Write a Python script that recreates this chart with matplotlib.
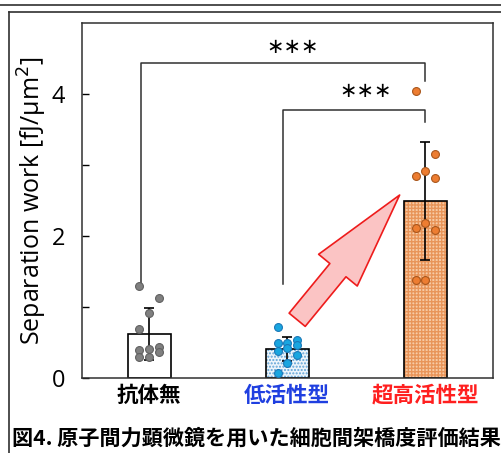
import matplotlib
matplotlib.use("Agg")
import matplotlib.pyplot as plt
from matplotlib.lines import Line2D
from matplotlib.patches import FancyArrowPatch
import numpy as np

groups = ["抗体無", "低活性型", "超高活性型"]
group_colors = ["black", "#1f3fe0", "#ff1f1f"]
means = [0.62, 0.41, 2.49]
sds = [0.36, 0.17, 0.83]

# individual measurements and their horizontal slot (-1, 0, +1)
vals_none = [1.29, 1.12, 0.91, 0.69, 0.40, 0.29, 0.41, 0.30, 0.44, 0.36]
slot_none = [-1, 1, 0, -1, -1, -1, 0, 0, 1, 1]
vals_low = [0.72, 0.49, 0.49, 0.54, 0.38, 0.42, 0.46, 0.33, 0.21, 0.07]
slot_low = [-1, -1, 0, 1, -1, 0, 1, 1, 0, -1]
vals_high = [4.04, 3.16, 2.92, 2.85, 2.81, 2.19, 2.11, 2.08, 1.38, 1.38]
slot_high = [-1, 1, 0, -1, 1, 0, -1, 1, -1, 0]

sig_pairs = [(0, 2), (1, 2)]
sig_text = ["∗∗∗", "∗∗∗"]

caption = "図4. 原子間力顕微鏡を用いた細胞間架橋度評価結果"

cjk = ["Noto Sans CJK JP", "DejaVu Sans"]
latin = ["Open Sans", "DejaVu Sans"]

fig = plt.figure(figsize=(5.01, 4.53), dpi=100)
ax = fig.add_axes([82 / 501, 1 - 378 / 453, 411 / 501, 355 / 453])

x = np.arange(len(groups))
w = 0.31
face = ["white", "#eef5fb", "#f7cba6"]
hatch = [None, ".....", "+++++"]
hcol = ["white", "#5fa3d6", "#e8955a"]
for i in range(3):
    ax.bar(x[i], means[i], w, color=face[i], hatch=hatch[i], edgecolor=hcol[i], lw=0, zorder=1)
    ax.bar(x[i], means[i], w, facecolor="none", edgecolor="black", lw=1.2, zorder=2)
ax.errorbar(x, means, yerr=sds, fmt="none", ecolor="black", elinewidth=1.2,
            capsize=3.5, capthick=1.2, zorder=3)

dot_style = [("#808080", "#606060"), ("#19a6e0", "#1a78b8"), ("#ed7d31", "#a9561c")]
for i, (vals, slots) in enumerate([(vals_none, slot_none), (vals_low, slot_low), (vals_high, slot_high)]):
    px = x[i] + 0.07 * np.array(slots)
    ax.scatter(px, vals, s=32, c=dot_style[i][0], edgecolors=dot_style[i][1],
               linewidths=0.8, zorder=4)

# significance brackets
tops = [4.43, 3.78]
drops = [4.18, 3.60]
lefts = [-0.06, 0.97]
legs = [1.34, 1.33]
star_pos = [(1.04, 4.66), (1.57, 4.04)]
for k, (a, b) in enumerate(sig_pairs):
    ax.plot([lefts[k], lefts[k], x[b], x[b]], [legs[k], tops[k], tops[k], drops[k]],
            color="#303030", lw=1.1, zorder=2)
    ax.text(star_pos[k][0], star_pos[k][1], sig_text[k], ha="center", va="center",
            fontsize=15, color="black")

arrow = FancyArrowPatch((1.072, 0.82), (1.814, 2.577),
                        arrowstyle="simple,head_length=70,head_width=36,tail_width=15",
                        mutation_scale=1, fc="#fbc4c4", ec="#ee1c1c", lw=1.2,
                        shrinkA=0, shrinkB=0, zorder=5)
ax.add_patch(arrow)

ax.set_xlim(-0.486, 2.49)
ax.set_ylim(0, 5.0)
ax.set_yticks([0, 2, 4])
ax.set_yticks([1, 3], minor=True)
ax.tick_params(axis="y", which="both", direction="in", length=5, width=1,
               labelsize=17, pad=12)
for t in ax.get_yticklabels():
    t.set_family(latin)
ax.set_xticks(x)
ax.set_xticklabels(groups)
ax.tick_params(axis="x", length=0, pad=5)
for t, c in zip(ax.get_xticklabels(), group_colors):
    t.set_color(c)
    t.set_family(cjk)
    t.set_fontweight("bold")
    t.set_fontsize(15.5)
for s in ax.spines.values():
    s.set_linewidth(1.1)
    s.set_color("#303030")
ax.set_ylabel("Separation work [fJ/μm$^2$]", fontsize=18, family=latin, labelpad=2)

fig.text(12 / 501, 1 - 438 / 453, caption, family=cjk, fontweight="bold",
         fontsize=15.2, ha="left", va="center")

# page frame lines
fig.add_artist(Line2D([0, 1], [1 - 5 / 453] * 2, color="#303030", lw=1.2))
fig.add_artist(Line2D([9 / 501, 1], [1 - 12 / 453] * 2, color="#303030", lw=1.2))
fig.add_artist(Line2D([9 / 501, 9 / 501], [0, 1 - 12 / 453], color="#303030", lw=1.2))

fig.savefig("out.png", dpi=100)
